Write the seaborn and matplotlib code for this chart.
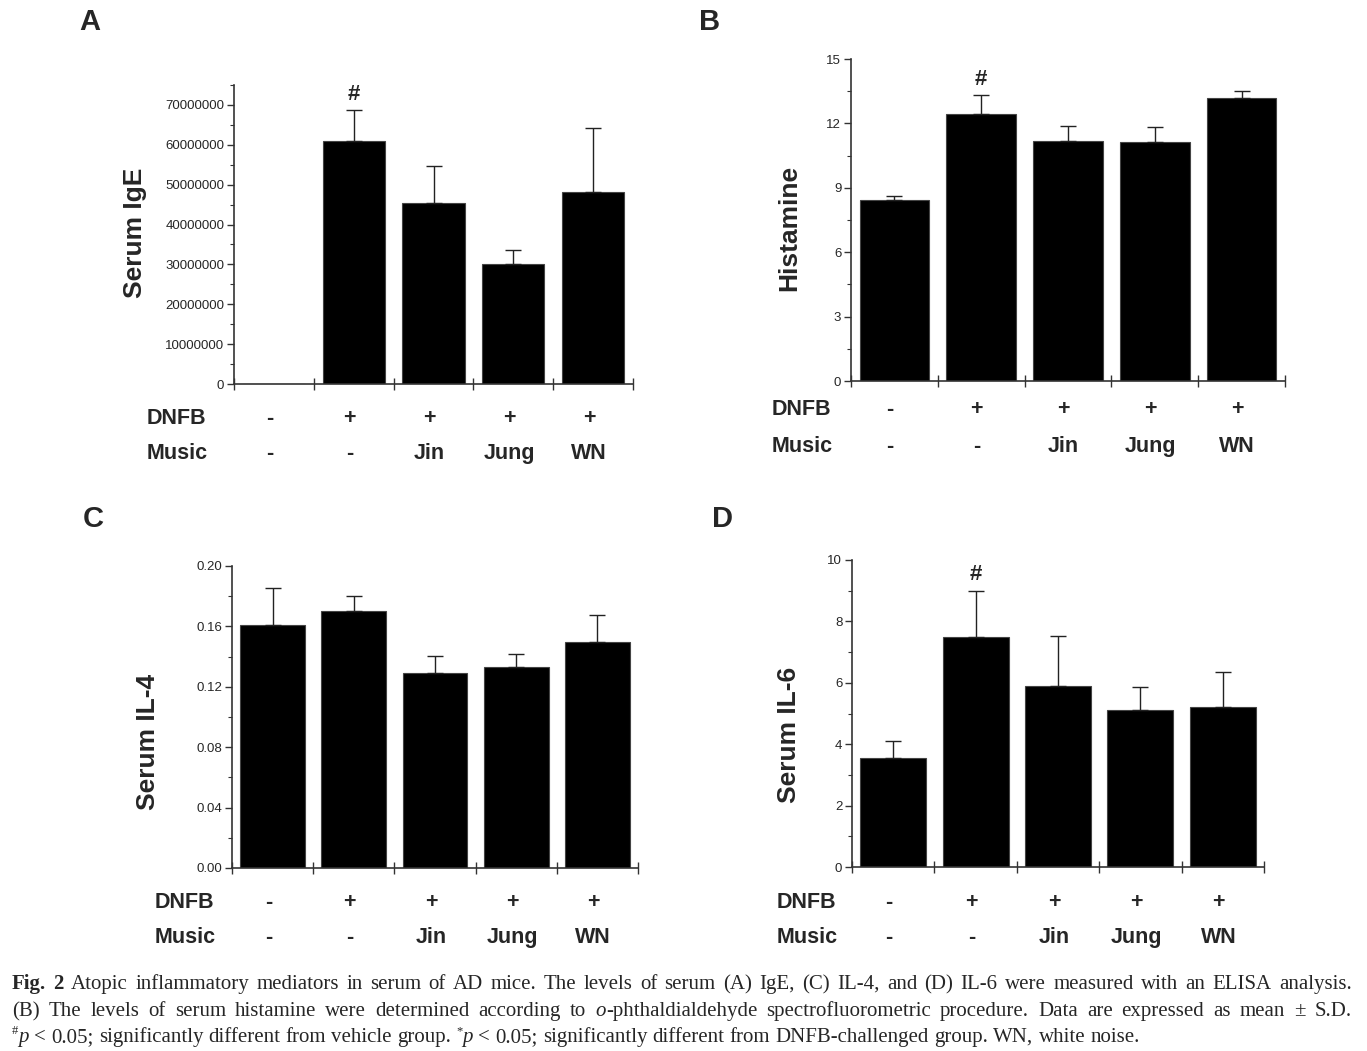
"""
Fig. 2 - serum mediators in AD mice, four bar panels with SD whiskers
"""
import numpy as np
import pandas as pd
import matplotlib
matplotlib.use('Agg')
import matplotlib.pyplot as plt
import matplotlib.transforms as mtrans
from matplotlib.ticker import MultipleLocator, FormatStrFormatter
import seaborn as sns

groups = ['Vehicle', 'DNFB', 'DNFB+Jin', 'DNFB+Jung', 'DNFB+WN']
dnfb = ['-', '+', '+', '+', '+']
music = ['-', '-', 'Jin', 'Jung', 'WN']

ige_mean = [0, 60900000, 45500000, 30000000, 48200000]
ige_sd = [0, 7800000, 9300000, 3700000, 16100000]
hist_mean = [8.43, 12.45, 11.20, 11.14, 13.16]
hist_sd = [0.21, 0.87, 0.69, 0.67, 0.33]
il4_mean = [0.161, 0.170, 0.129, 0.133, 0.1495]
il4_sd = [0.0244, 0.0104, 0.0113, 0.0090, 0.0183]
il6_mean = [3.54, 7.50, 5.88, 5.10, 5.21]
il6_sd = [0.55, 1.49, 1.65, 0.77, 1.15]

sns.set_style('ticks')
plt.rcParams['font.family'] = ['Liberation Sans', 'DejaVu Sans']

fig = plt.figure(figsize=(13.67, 10.51), dpi=100)
W, H = 1367, 1051


def px_axes(left, top, right, bottom):
    return fig.add_axes([left / W, 1 - bottom / H, (right - left) / W, (bottom - top) / H])


panels = [
    dict(letter='A', mean=ige_mean, sd=ige_sd, ylabel='Serum IgE', ymax=75000000, major=10000000,
         minor=5000000, fmt='%d', box=(234, 85, 633, 384), width=0.78, lab=(-0.248, 0.505),
         lpos=(90, 22), rows=(424, 459), rowx=147, hash=1),
    dict(letter='B', mean=hist_mean, sd=hist_sd, ylabel='Histamine', ymax=15, major=3,
         minor=1.5, fmt='%d', box=(851, 59, 1285, 381), width=0.8, lab=(-0.143, 0.475),
         lpos=(710, 22), rows=(415, 452), rowx=772, hash=1),
    dict(letter='C', mean=il4_mean, sd=il4_sd, ylabel='Serum IL-4', ymax=0.20, major=0.04,
         minor=0.02, fmt='%.2f', box=(232, 566, 638, 868), width=0.8, lab=(-0.207, 0.417),
         lpos=(93, 519), rows=(908, 943), rowx=155, hash=None),
    dict(letter='D', mean=il6_mean, sd=il6_sd, ylabel='Serum IL-6', ymax=10, major=2,
         minor=1, fmt='%d', box=(852, 560, 1264, 867), width=0.8, lab=(-0.153, 0.43),
         lpos=(723, 519), rows=(908, 943), rowx=777, hash=1),
]

for p in panels:
    ax = px_axes(*p['box'])
    df = pd.DataFrame({'group': groups, 'value': p['mean']})
    sns.barplot(data=df, x='group', y='value', color='black', width=p['width'],
                errorbar=None, saturation=1, edgecolor='#444444', linewidth=0.8, ax=ax)

    mean = np.array(p['mean'], dtype=float)
    sd = np.array(p['sd'], dtype=float)
    idx = np.where(sd > 0)[0]
    ax.errorbar(idx, mean[idx], yerr=[np.zeros(len(idx)), sd[idx]], fmt='none',
                ecolor='#222222', elinewidth=1.0, capsize=6, capthick=1.0, zorder=3)

    ax.set_xlim(-0.5, 4.5)
    ax.set_ylim(0, p['ymax'])
    ax.set_xticks(np.arange(-0.5, 5, 1))
    ax.set_xticklabels([])
    ax.set_xlabel('')
    ax.tick_params(axis='x', direction='inout', length=8, width=1, color='#333333')
    ax.yaxis.set_major_locator(MultipleLocator(p['major']))
    ax.yaxis.set_minor_locator(MultipleLocator(p['minor']))
    ax.yaxis.set_major_formatter(FormatStrFormatter(p['fmt']))
    ax.tick_params(axis='y', which='major', direction='out', length=5, width=1,
                   labelsize=9.5, pad=2, color='#333333')
    ax.tick_params(axis='y', which='minor', direction='out', length=3, width=0.8, color='#333333')
    for side in ['top', 'right']:
        ax.spines[side].set_visible(False)
    for side in ['left', 'bottom']:
        ax.spines[side].set_color('#333333')
        ax.spines[side].set_linewidth(1.2)

    ax.set_ylabel(p['ylabel'], fontsize=19, fontweight='bold', va='center')
    ax.yaxis.set_label_coords(*p['lab'])

    if p['hash'] is not None:
        i = p['hash']
        ax.annotate('#', (i, mean[i] + sd[i]), xytext=(0, 4), textcoords='offset points',
                    ha='center', va='bottom', fontsize=16, fontweight='bold')

    fig.text(p['lpos'][0] / W, 1 - p['lpos'][1] / H, p['letter'], fontsize=21,
             fontweight='bold', ha='center', va='center')

    # treatment rows under the axis
    trans = mtrans.blended_transform_factory(ax.transData, fig.transFigure)
    for row_y, name, vals in [(p['rows'][0], 'DNFB', dnfb), (p['rows'][1], 'Music', music)]:
        yf = 1 - row_y / H
        fig.text(p['rowx'] / W, yf, name, fontsize=15.5, fontweight='bold', ha='left', va='baseline')
        for i, v in enumerate(vals):
            ax.text(i - 0.05, yf, v, transform=trans, fontsize=15.5, fontweight='bold',
                    ha='center', va='baseline')

# caption in serif with mixed styles, first two lines justified
renderer = fig.canvas.get_renderer()
cap_size = 15.0
right_edge = 1352
lines = [
    (989, True, [('Fig. 2', 'bold'), (' Atopic inflammatory mediators in serum of AD mice. The levels of serum (A) IgE, '
                                      '(C) IL-4, and (D) IL-6 were measured with an ELISA analysis.', 'normal')]),
    (1016, True, [('(B) The levels of serum histamine were determined according to ', 'normal'), ('o', 'italic'),
                  ('-phthaldialdehyde spectrofluorometric procedure. Data are expressed as mean \u00b1 S.D.', 'normal')]),
    (1042, False, [('#', 'sup'), ('p', 'italic'), (' < 0.05; significantly different from vehicle group. ', 'normal'),
                   ('*', 'sup'), ('p', 'italic'),
                   (' < 0.05; significantly different from DNFB-challenged group. WN, white noise.', 'normal')]),
]


def style_kw(style):
    kw = dict(family='Liberation Serif', fontsize=cap_size, va='baseline', ha='left')
    if style == 'bold':
        kw['fontweight'] = 'bold'
    elif style == 'italic':
        kw['style'] = 'italic'
    elif style == 'sup':
        kw['fontsize'] = cap_size * 0.6
    return kw


def width_of(txt, kw):
    t = fig.text(0, 0, txt, **kw)
    w = t.get_window_extent(renderer).width
    t.remove()
    return w


space_w = width_of('x x', style_kw('normal')) - width_of('xx', style_kw('normal'))

for base_y, justify, segs in lines:
    # split into word pieces, keeping track of the spaces between them
    pieces = []
    for txt, style in segs:
        parts = txt.split(' ')
        for k, part in enumerate(parts):
            if k > 0:
                pieces.append((None, style))
            if part:
                pieces.append((part, style))
    natural = sum(space_w if t is None else width_of(t, style_kw(s)) for t, s in pieces)
    n_sp = sum(1 for t, s in pieces if t is None)
    gap = space_w
    if justify:
        gap = max(space_w, space_w + (right_edge - 12 - natural) / n_sp)
    x = 12
    for txt, style in pieces:
        if txt is None:
            x += gap
            continue
        kw = style_kw(style)
        y = base_y - 8 if style == 'sup' else base_y
        t = fig.text(x / W, 1 - y / H, txt, **kw)
        x += t.get_window_extent(renderer).width

fig.savefig('out.png', dpi=100)
